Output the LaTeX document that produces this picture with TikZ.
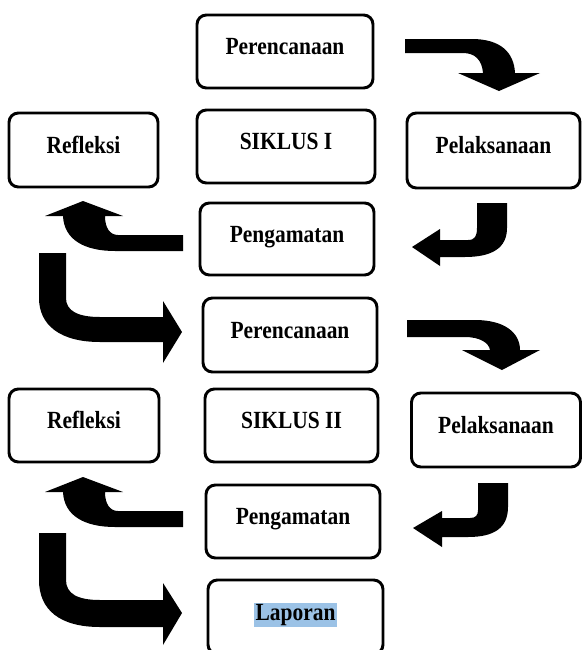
\documentclass[tikz,border=0pt]{standalone}
\usepackage{fontspec}
\setmainfont{Liberation Serif}[FakeStretch=0.87]
\definecolor{hl}{RGB}{155,194,230}
\tikzset{
  box/.style={draw=black, line width=2.2pt, rounded corners=7pt, fill=white,
    inner sep=0pt, text height=12.4pt, text depth=7.2pt,
    font=\fontsize{18.5pt}{20pt}\selectfont\bfseries},
  blockarrow/.style={fill=black}
}
\begin{document}
\begin{tikzpicture}[x=0.75pt, y=-0.75pt]
\useasboundingbox (0,0) rectangle (583,650);
\clip (0,0) rectangle (583,650);
% boxes
\node[box, minimum width=176*0.75pt, minimum height=73*0.75pt] (per1) at (285,51.5) {Perencanaan};
\node[box, minimum width=178*0.75pt, minimum height=73*0.75pt] (sik1) at (286,146.5) {SIKLUS I};
\node[box, minimum width=173*0.75pt, minimum height=75*0.75pt] (pel1) at (493.5,150.5) {Pelaksanaan};
\node[box, minimum width=149*0.75pt, minimum height=74*0.75pt] (ref1) at (83.5,150) {Refleksi};
\node[box, minimum width=174*0.75pt, minimum height=72*0.75pt] (pen1) at (287,239) {Pengamatan};
\node[box, minimum width=174*0.75pt, minimum height=74*0.75pt] (per2) at (290,335) {Perencanaan};
\node[box, minimum width=173*0.75pt, minimum height=73*0.75pt] (sik2) at (291.5,425.5) {SIKLUS II};
\node[box, minimum width=169*0.75pt, minimum height=74*0.75pt] (pel2) at (496,430) {Pelaksanaan};
\node[box, minimum width=150*0.75pt, minimum height=73*0.75pt] (ref2) at (84,425.5) {Refleksi};
\node[box, minimum width=174*0.75pt, minimum height=73*0.75pt] (pen2) at (293,521.5) {Pengamatan};
\node[box, minimum width=175*0.75pt, minimum height=74*0.75pt] (lap) at (295.5,617) {{\fboxsep=1.1pt\colorbox{hl}{Laporan}}};
% block arrows
% Perencanaan I -> Pelaksanaan I
\fill[blockarrow] (405,39) -- (472,39) .. controls (500,39) and (514,52) .. (515,73) -- (540,73) -- (499,91) -- (458,73) -- (483,73) .. controls (482,60) and (475,53) .. (463,53) -- (405,53) -- cycle;
% Pelaksanaan I -> Pengamatan I
\fill[blockarrow] (477,203) -- (507,203) -- (507,228) .. controls (507,248) and (492,257) .. (465,257) -- (440,257) -- (440,266) -- (412,247) -- (440,229) -- (440,240) -- (468,240) .. controls (475,240) and (477,236) .. (477,228) -- cycle;
% Pengamatan I -> Refleksi I
\fill[blockarrow] (183,235) -- (118,235) .. controls (110,235) and (105,228) .. (105,216) -- (123,216) -- (83,201) -- (45,216) -- (63,216) .. controls (64,240) and (85,251) .. (115,251) -- (183,251) -- cycle;
% Refleksi I -> Perencanaan II
\fill[blockarrow] (39,253) -- (66,253) -- (66,298) .. controls (66,311) and (78,317) .. (100,317) -- (163,317) -- (163,301) -- (182,332) -- (163,363) -- (163,342) -- (100,342) .. controls (60,342) and (39,325) .. (39,298) -- cycle;
% Perencanaan II -> Pelaksanaan II
\fill[blockarrow] (407,320) -- (475,320) .. controls (505,320) and (520,333) .. (520,350) -- (540,350) -- (502,370) -- (462,350) -- (490,350) .. controls (489,343) and (480,337) .. (465,337) -- (407,337) -- cycle;
% Pelaksanaan II -> Pengamatan II
\fill[blockarrow] (478,483) -- (508,483) -- (508,507) .. controls (508,528) and (494,537) .. (468,537) -- (442,537) -- (442,547) -- (413,528) -- (442,511) -- (442,518) -- (470,518) .. controls (476,518) and (478,515) .. (478,510) -- cycle;
% Pengamatan II -> Refleksi II
\fill[blockarrow] (183,511) -- (118,511) .. controls (110,511) and (105,504) .. (105,492) -- (123,492) -- (83,477) -- (45,492) -- (63,492) .. controls (64,516) and (85,527) .. (115,527) -- (183,527) -- cycle;
% Refleksi II -> Laporan
\fill[blockarrow] (39,533) -- (66,533) -- (66,580) .. controls (66,594) and (78,600) .. (100,600) -- (163,600) -- (163,583) -- (182,613) -- (163,645) -- (163,627) -- (100,627) .. controls (60,627) and (39,610) .. (39,580) -- cycle;
\end{tikzpicture}
\end{document}
